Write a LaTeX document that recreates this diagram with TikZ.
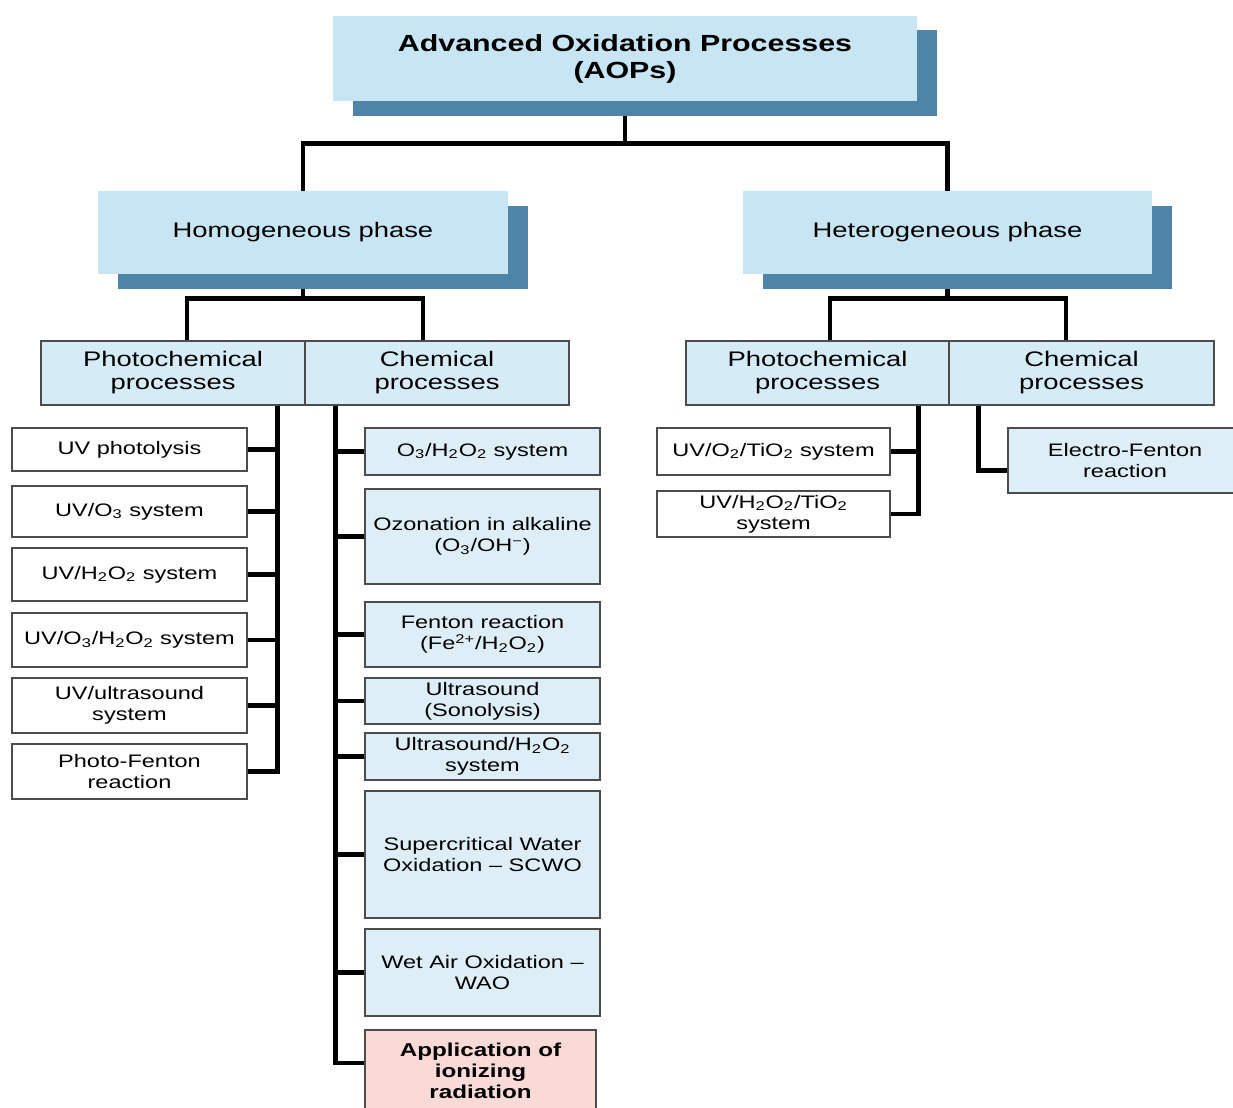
\documentclass[tikz,border=0pt]{standalone}
\usepackage{fontspec}
\setmainfont[FakeStretch=1.3]{Liberation Sans}
\usepackage{xcolor}
\usetikzlibrary{backgrounds,shadows}

\definecolor{aopblue}{HTML}{C7E5F3}
\definecolor{shadowblue}{HTML}{4D84A7}
\definecolor{procblue}{HTML}{D5EBF6}
\definecolor{leafblue}{HTML}{DEEEF7}
\definecolor{pinkbox}{HTML}{F9DAD6}

\tikzset{
	conn/.style={line width=2.6pt, black},
	sz/.style 2 args={minimum width=#1*0.2mm, minimum height=#2*0.2mm},
	headbox/.style={fill=aopblue, inner sep=0pt, align=center,
		drop shadow={shadow xshift=3.9mm, shadow yshift=-2.9mm, fill=shadowblue, opacity=1}},
	procbox/.style={draw=black!70, line width=0.6pt, fill=procblue, inner sep=0pt,
		align=center, font=\fontsize{12}{13.1}\selectfont},
	leafbox/.style={draw=black!70, line width=0.6pt, fill=white, inner sep=0pt,
		align=center, font=\fontsize{10.3}{12}\selectfont},
	leafblue/.style={leafbox, fill=leafblue},
}

\begin{document}
\begin{tikzpicture}[x=0.2mm,y=-0.2mm]
	\useasboundingbox (0,0) rectangle (1233,1107);
	%
	\node[headbox, sz={584}{85}, font=\fontsize{13.3}{15.4}\selectfont\bfseries] (aop) at (625,58.5)
		{Advanced Oxidation Processes\\(AOPs)};
	\node[headbox, sz={410}{83}, font=\fontsize{12}{13.1}\selectfont] (homog) at (303,232.5) {Homogeneous phase};
	\node[headbox, sz={409}{83}, font=\fontsize{12}{13.1}\selectfont] (heterog) at (947.5,232.5) {Heterogeneous phase};
	%
	\node[procbox, sz={264}{64}] (photoL) at (173,373) {Photochemical\\processes};
	\node[procbox, sz={264}{64}] (chemL) at (437,373) {Chemical\\processes};
	\node[procbox, sz={263}{64}] (photoR) at (817.5,373) {Photochemical\\processes};
	\node[procbox, sz={265}{64}] (chemR) at (1081.5,373) {Chemical\\processes};
	%
	\node[leafbox, sz={235}{43}] (uvphot) at (129.5,449.5) {UV photolysis};
	\node[leafbox, sz={235}{51}] (uvoz) at (129.5,511.5) {UV/O\textsubscript{3} system};
	\node[leafbox, sz={235}{53}] (uvhp) at (129.5,574.5) {UV/H\textsubscript{2}O\textsubscript{2} system};
	\node[leafbox, sz={235}{54}] (uvozhp) at (129.5,640) {UV/O\textsubscript{3}/H\textsubscript{2}O\textsubscript{2} system};
	\node[leafbox, sz={235}{55}] (uvus) at (129.5,705.5) {UV/ultrasound\\system};
	\node[leafbox, sz={235}{55}] (pfenton) at (129.5,771.5) {Photo-Fenton\\reaction};
	%
	\node[leafblue, sz={235}{47}] (ozhp) at (482.5,451.5) {O\textsubscript{3}/H\textsubscript{2}O\textsubscript{2} system};
	\node[leafblue, sz={235}{95}] (ozon) at (482.5,536.5) {Ozonation in alkaline\\(O\textsubscript{3}/OH\textsuperscript{−})};
	\node[leafblue, sz={235}{65}] (fenton) at (482.5,634.5) {Fenton reaction\\(Fe\textsuperscript{2+}/H\textsubscript{2}O\textsubscript{2})};
	\node[leafblue, sz={235}{46}] (sono) at (482.5,701) {Ultrasound\\(Sonolysis)};
	\node[leafblue, sz={235}{47}] (ushp) at (482.5,756.5) {Ultrasound/H\textsubscript{2}O\textsubscript{2}\\system};
	\node[leafblue, sz={235}{127}] (scwo) at (482.5,854.5) {Supercritical Water\\Oxidation – SCWO};
	\node[leafblue, sz={235}{87}] (wao) at (482.5,972.5) {Wet Air Oxidation –\\WAO};
	\node[leafbox, fill=pinkbox, sz={231}{82}, font=\fontsize{10.6}{12}\selectfont\bfseries] (ioniz) at (480.5,1071)
		{Application of\\ionizing\\radiation};
	%
	\node[leafbox, sz={233}{47}] (uvtio) at (773.5,451.5) {UV/O\textsubscript{2}/TiO\textsubscript{2} system};
	\node[leafbox, sz={233}{46}] (uvhptio) at (773.5,514) {UV/H\textsubscript{2}O\textsubscript{2}/TiO\textsubscript{2}\\system};
	\node[leafblue, sz={234}{65}] (efenton) at (1125,460.5) {Electro-Fenton\\reaction};
	%
	\begin{scope}[on background layer]
		\draw[conn] (aop.south) -- ++(0,42) coordinate (split0);
		\draw[conn] (homog.north) |- (split0) -| (heterog.north);
		\draw[conn] (homog.south) -- ++(0,24) coordinate (split1);
		\draw[conn] ([xshift=2.8mm]photoL.north) |- (split1) -| ([xshift=-2.8mm]chemL.north);
		\draw[conn] (heterog.south) -- ++(0,24) coordinate (split2);
		\draw[conn] ([xshift=2.5mm]photoR.north) |- (split2) -| ([xshift=-3.1mm]chemR.north);
	\end{scope}
	%
	\coordinate (busA) at ([xshift=-5.6mm]photoL.south east);
	\coordinate (busB) at ([xshift=6.2mm]chemL.south west);
	\coordinate (busC) at ([xshift=-6.2mm]photoR.south east);
	\coordinate (busD) at ([xshift=6mm]chemR.south west);
	\foreach \n in {uvphot,uvoz,uvhp,uvozhp,uvus,pfenton}
		\draw[conn] (busA) |- (\n.east);
	\foreach \n in {ozhp,ozon,fenton,sono,ushp,scwo,wao}
		\draw[conn] (busB) |- (\n.west);
	\draw[conn] (busB) |- ([yshift=1.6mm]ioniz.west);
	\foreach \n in {uvtio,uvhptio}
		\draw[conn] (busC) |- (\n.east);
	\draw[conn] (busD) |- ([yshift=-2mm]efenton.west);
\end{tikzpicture}
\end{document}
